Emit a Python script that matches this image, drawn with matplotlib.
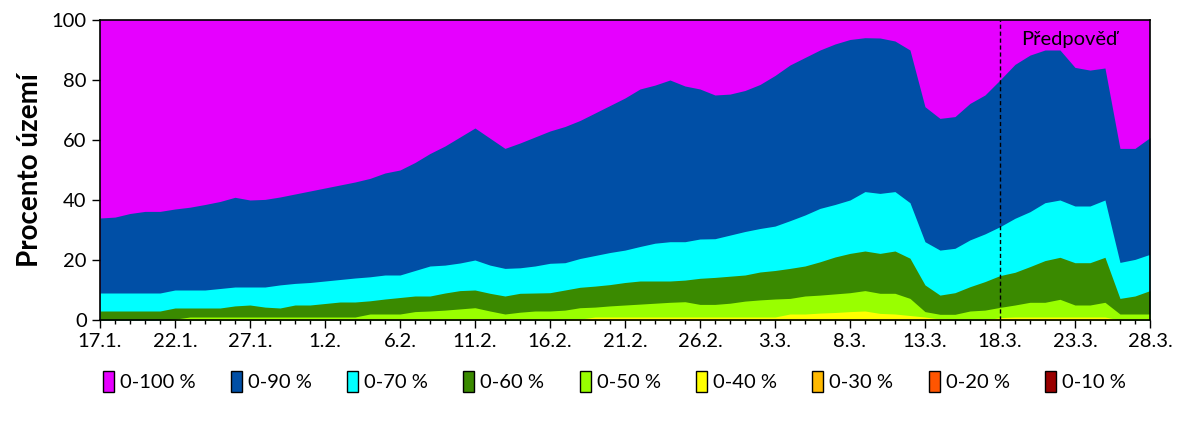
import matplotlib
matplotlib.use("Agg")
import matplotlib.pyplot as plt
import numpy as np
from matplotlib.patches import Patch

plt.rcParams['font.family'] = ['Lato', 'DejaVu Sans']

# daily values 17.1. - 28.3. (71 days), cumulative share of area in %
tick_labels = ["17.1.", "22.1.", "27.1.", "1.2.", "6.2.", "11.2.", "16.2.", "21.2.",
               "26.2.", "3.3.", "8.3.", "13.3.", "18.3.", "23.3.", "28.3."]

p100 = [100] * 71

p90 = [34, 34.3, 35.5, 36.2, 36.2, 37, 37.6, 38.5, 39.5, 40.9,
       40, 40.2, 41, 42, 43, 44, 45, 46, 47.2, 49,
       50, 52.5, 55.5, 58, 61, 64, 60.6, 57.2, 59, 61,
       63, 64.5, 66.5, 69, 71.5, 74, 77, 78.3, 80, 78,
       77, 75, 75.3, 76.5, 78.5, 81.5, 85, 87.5, 90, 92,
       93.5, 94.1, 94, 93, 90, 71.1, 67.2, 67.8, 72.2, 75,
       80, 85.2, 88.3, 90, 90, 84.2, 83.3, 84, 57.2, 57.2,
       60.8]

p70 = [9, 9, 9, 9, 9, 10, 10, 10, 10.5, 11,
       11, 11, 11.7, 12.2, 12.5, 13, 13.5, 14, 14.4, 15,
       15, 16.5, 18, 18.3, 19, 20, 18.3, 17.2, 17.4, 18,
       18.9, 19.1, 20.5, 21.5, 22.5, 23.3, 24.5, 25.6, 26.1, 26.1,
       27, 27.1, 28.3, 29.5, 30.5, 31.3, 33.1, 35, 37.2, 38.5,
       40, 42.8, 42.2, 42.8, 39.1, 26.1, 23.3, 23.9, 26.7, 28.7,
       31.1, 33.9, 36.1, 39.1, 40, 38, 38, 40, 19.2, 20.2,
       21.9]

p60 = [3, 3, 3, 3, 3, 4, 4, 4, 4, 4.7,
       5, 4.3, 4, 5, 5, 5.5, 6, 6, 6.4, 7,
       7.5, 8, 8, 9, 9.8, 10, 8.9, 8, 8.9, 9,
       9.1, 10, 10.9, 11.3, 11.8, 12.5, 13, 13, 13, 13.3,
       13.9, 14.2, 14.6, 15, 16, 16.5, 17.2, 18, 19.4, 21,
       22.2, 23, 22.2, 23, 20.6, 11.7, 8.3, 9.1, 11.1, 12.8,
       14.8, 15.9, 17.8, 19.8, 20.9, 19.1, 19.1, 20.9, 7.2, 8,
       9.8]

p50 = [0, 0, 0, 0, 0, 0.3, 1, 1, 1, 1,
       1, 1, 1, 1, 1, 1, 1, 1, 2, 2,
       2, 2.8, 3, 3.3, 3.7, 4.1, 3, 2, 2.6, 3,
       3, 3.3, 4.1, 4.3, 4.7, 5, 5.3, 5.6, 5.9, 6.1,
       5.2, 5.2, 5.6, 6.3, 6.7, 7, 7.2, 8, 8.3, 8.7,
       9.1, 9.8, 8.9, 8.9, 7.2, 2.8, 1.9, 1.9, 3, 3.3,
       4.2, 5, 5.9, 5.9, 6.9, 5, 5, 5.9, 2, 2,
       2]

p40 = [0] * 32 + [0.3, 1, 1, 1, 1, 1, 1, 1,
                  1, 1, 1, 1, 1, 1, 2, 2, 2.3, 2.5,
                  2.8, 3, 2.2, 2, 1.5, 1, 0.3, 0, 0, 0,
                  0.8, 1, 1, 1, 1, 1, 1, 1, 0, 0,
                  0]

p30 = [0] * 71
p20 = [0] * 71
p10 = [0] * 71

names = ["0-100 %", "0-90 %", "0-70 %", "0-60 %", "0-50 %", "0-40 %", "0-30 %", "0-20 %", "0-10 %"]
colors = ["#E600FF", "#004FA6", "#00FFFF", "#3A8A00", "#99FF00", "#FFFF00", "#FFB900", "#FF5500", "#990000"]
series = [p100, p90, p70, p60, p50, p40, p30, p20, p10]

forecast_day = 60


def plot():
    days = np.arange(71)

    fig = plt.figure(figsize=(12, 4.3), dpi=100)
    ax = fig.add_axes([0.0833, 0.2558, 0.875, 0.6977])

    for vals, col in zip(series, colors):
        ax.fill_between(days, 0, vals, color=col, linewidth=0)

    ax.axvline(forecast_day, color="black", linestyle=(0, (3, 2)), linewidth=1)
    ax.text(forecast_day + 1.4, 93.5, "Předpověď", fontsize=14.5, va="center", ha="left")

    ax.set_xlim(0, 70)
    ax.set_ylim(0, 100)
    ax.set_xticks(np.arange(0, 71, 5))
    ax.set_xticklabels(tick_labels)
    ax.set_xticks(days, minor=True)
    ax.set_yticks(np.arange(0, 101, 20))
    ax.tick_params(axis="both", which="major", direction="out", length=6, width=1, labelsize=14.5)
    ax.tick_params(axis="x", which="minor", direction="out", length=3, width=1)
    ax.set_ylabel("Procento území", fontsize=20, fontweight="bold", labelpad=6)
    for s in ax.spines.values():
        s.set_linewidth(1.2)

    handles = [Patch(facecolor=c, edgecolor="black", linewidth=1, label=n) for n, c in zip(names, colors)]
    ax.legend(handles=handles, ncol=9, loc="center", bbox_to_anchor=(0.49, -0.205),
              frameon=False, fontsize=14.5, handlelength=0.55, handleheight=1.2,
              handletextpad=0.3, columnspacing=1.75)

    fig.savefig("out.png", dpi=100)


if __name__ == "__main__":
    plot()
